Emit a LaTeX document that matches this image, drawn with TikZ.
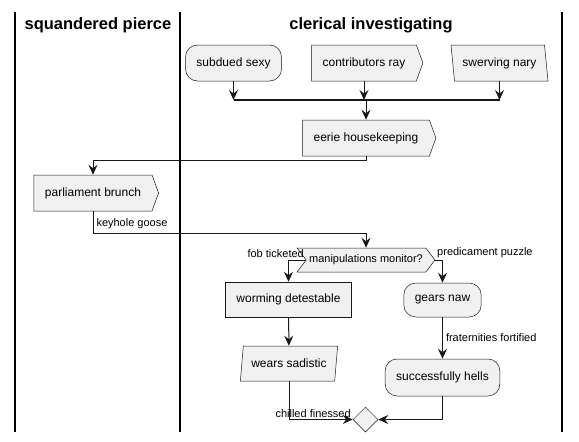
\documentclass[tikz,border=0pt]{standalone}
\usepackage{fontspec}
\setmainfont{Liberation Sans}
\usetikzlibrary{arrows.meta,shapes.geometric,shapes.symbols}
\definecolor{boxfill}{HTML}{F1F1F1}
\definecolor{boxline}{HTML}{181818}

\begin{document}
\begin{tikzpicture}[x=1pt,y=-1pt,
    every node/.style={font=\fontsize{12}{14}\selectfont},
    actbox/.style={draw=boxline,fill=boxfill,line width=0.5pt,minimum height=36pt,inner xsep=11pt,inner ysep=2pt},
    roundbox/.style={actbox,rounded corners=12pt},
    sendbox/.style={actbox,shape=signal,signal to=east,signal pointer angle=140},
    slantbox/.style={actbox,trapezium,trapezium stretches body,inner xsep=8pt},
    decbox/.style={draw=boxline,fill=boxfill,line width=0.5pt,shape=signal,signal to=east,signal from=west,
      signal pointer angle=106,minimum height=24pt,inner xsep=3pt,font=\fontsize{11}{13}\selectfont},
    mergebox/.style={draw=boxline,fill=boxfill,line width=0.5pt,diamond,minimum size=25pt,inner sep=0pt},
    lbl/.style={font=\fontsize{11}{13}\selectfont,inner sep=1.5pt},
    lanetitle/.style={font=\fontsize{16.5}{20}\selectfont\bfseries},
    lane/.style={line width=1.5pt},
    arr/.style={draw=boxline,line width=1pt,-{Stealth[length=10pt,width=9pt,inset=3.5pt]}},
    barline/.style={draw=boxline,line width=2.5pt}]
  \useasboundingbox (0,0) rectangle (579,442);
  % swimlanes
  \draw[lane] (15,12) -- (15,432);
  \draw[lane] (180,12) -- (180,432);
  \draw[lane] (562,12) -- (562,432);
  \node[lanetitle] (pierce) at (98,25) {squandered pierce};
  \node[lanetitle] (clerical) at (371,25) {clerical investigating};
  % fork of three
  \node[roundbox] (sexy) at (233.5,63) {subdued sexy};
  \node[sendbox] (contrib) at (364,63) {contributors ray};
  \node[slantbox,trapezium left angle=103,trapezium right angle=77] (nary) at (499.5,63) {swerving nary};
  \coordinate (bar) at (366,100);
  \draw[arr] (sexy.south) -- (sexy.south |- bar);
  \draw[arr] (contrib.south) -- (contrib.south |- bar);
  \draw[arr] (nary.center |- nary.south) -- (nary.center |- bar);
  \draw[barline] (sexy.south |- bar) -- (nary.center |- bar);
  \node[sendbox] (eerie) at (366,138) {eerie housekeeping};
  \draw[arr] (bar) -- (eerie.north);
  \node[sendbox] (parl) at (93,193) {parliament brunch};
  \draw[arr] (eerie.south) -- ++(0,4) -| (parl.north);
  % decision
  \node[decbox] (dec) at (366,260) {manipulations monitor?};
  \draw[arr] (parl.south) -- node[lbl,right,pos=0.55,inner sep=3pt] {keyhole goose} ++(0,22) -| (dec.north);
  \node[actbox,minimum height=35pt] (worm) at (288.5,299.5) {worming detestable};
  \node[roundbox,minimum height=34pt] (gears) at (442.5,300) {gears naw};
  \draw[arr] (dec.west) node[lbl,anchor=south east] {fob ticketed} -| (worm.north);
  \draw[arr] (dec.east) node[lbl,anchor=south west] {predicament puzzle} -| (gears.north);
  \node[slantbox,minimum height=35pt,trapezium left angle=77,trapezium right angle=103] (wears) at (289,363.5) {wears sadistic};
  \node[roundbox,minimum height=37pt] (succ) at (442.5,377.5) {successfully hells};
  \draw[arr] (worm) -- (wears);
  \draw[arr] (gears) -- node[lbl,right,inner sep=3pt] {fraternities fortified} (succ);
  % merge
  \node[mergebox] (merge) at (365.5,419.5) {};
  \draw[arr] (wears.center |- wears.south) |- node[lbl,pos=1,anchor=south east] {chilled finessed} (merge.west);
  \draw[arr] (succ.south) |- (merge.east);
\end{tikzpicture}
\end{document}
